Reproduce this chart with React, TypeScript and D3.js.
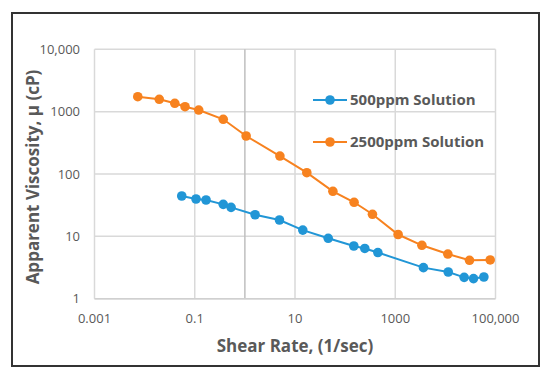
import React from "react";
import { scaleLog, line } from "d3";

// Shear rate (1/sec) and apparent viscosity (cP)
const rate500 = [0.055, 0.106, 0.168, 0.37, 0.53, 1.6, 4.9, 14.3, 46, 149, 247, 450, 3650, 11400, 23700, 36400, 58600];
const visc500 = [44.4, 39.7, 38.3, 32.6, 29.2, 22.2, 18.3, 12.6, 9.3, 7.0, 6.4, 5.5, 3.15, 2.68, 2.2, 2.1, 2.23];
const rate2500 = [0.0073, 0.0196, 0.04, 0.064, 0.12, 0.37, 1.06, 5.0, 17.2, 57, 151, 351, 1140, 3400, 11200, 30300, 78400];
const visc2500 = [1738, 1578, 1361, 1200, 1062, 754, 407, 194, 105, 52.8, 35.2, 22.6, 10.7, 7.18, 5.2, 4.13, 4.18];

const xTicks = [0.001, 0.1, 10, 1000, 100000];
const xTickLabels = ["0.001", "0.1", "10", "1000", "100,000"];
const yTicks = [1, 10, 100, 1000, 10000];
const yTickLabels = ["1", "10", "100", "1000", "10,000"];

const seriesNames = ["500ppm Solution", "2500ppm Solution"];
const colors = ["#2196d6", "#f7821f"];

const W = 550, H = 376;
const plot = { left: 94.5, right: 495.5, top: 49.3, bottom: 298.7 };
const font = "'Open Sans', 'DejaVu Sans', sans-serif";
const textColor = "#595959";

export default function App() {
  const x = scaleLog().domain([0.001, 100000]).range([plot.left, plot.right]);
  const y = scaleLog().domain([1, 10000]).range([plot.bottom, plot.top]);

  const series = [
    rate500.map((r, i) => [r, visc500[i]]),
    rate2500.map((r, i) => [r, visc2500[i]]),
  ];
  const path = line<number[]>().x(d => x(d[0])).y(d => y(d[1]));

  return (
    <svg width={W} height={H} style={{ position: "absolute", left: 0, top: 0 }} fontFamily={font}>
      <rect x={0} y={0} width={W} height={H} fill="#fff" />
      <rect x={12} y={13} width={527} height={353} fill="#fff" stroke="#333" strokeWidth={2} />

      {/* gridlines */}
      {yTicks.map(t => (
        <line key={"gy" + t} x1={plot.left} x2={plot.right} y1={y(t)} y2={y(t)} stroke="#d9d9d9" strokeWidth={1.5} />
      ))}
      {xTicks.map(t => (
        <line key={"gx" + t} x1={x(t)} x2={x(t)} y1={plot.top} y2={plot.bottom} stroke="#d9d9d9" strokeWidth={1.5} />
      ))}
      {/* vertical axis crossing at 1 */}
      <line x1={x(1)} x2={x(1)} y1={plot.top} y2={plot.bottom} stroke="#bfbfbf" strokeWidth={1.5} />
      <line x1={plot.left} x2={plot.right} y1={y(1)} y2={y(1)} stroke="#d0d0d0" strokeWidth={1.5} />

      {/* tick labels */}
      {yTicks.map((t, i) => (
        <text key={"ty" + t} x={80} y={y(t)} dy="0.35em" textAnchor="end" fontSize={13} fill={textColor}>
          {yTickLabels[i]}
        </text>
      ))}
      {xTicks.map((t, i) => (
        <text key={"tx" + t} x={x(t)} y={318} dy="0.35em" textAnchor="middle" fontSize={13} fill={textColor}>
          {xTickLabels[i]}
        </text>
      ))}

      {/* series */}
      {series.map((s, k) => (
        <g key={"s" + k}>
          <path d={path(s) || ""} fill="none" stroke={colors[k]} strokeWidth={2} />
          {s.map((d, i) => (
            <circle key={i} cx={x(d[0])} cy={y(d[1])} r={4.8} fill={colors[k]} />
          ))}
        </g>
      ))}

      {/* legend */}
      {seriesNames.map((name, k) => {
        const ly = 100 + k * 42;
        return (
          <g key={"l" + k}>
            <line x1={313} x2={347} y1={ly} y2={ly} stroke={colors[k]} strokeWidth={2} />
            <circle cx={330} cy={ly} r={4.8} fill={colors[k]} />
            <text x={350} y={ly} dy="0.35em" fontSize={15} fontWeight="bold" fill={textColor}>
              {name}
            </text>
          </g>
        );
      })}

      {/* axis titles */}
      <text x={(plot.left + plot.right) / 2} y={346} dy="0.35em" textAnchor="middle" fontSize={17} fontWeight="bold" fill={textColor}>
        Shear Rate, (1/sec)
      </text>
      <text transform={`translate(33,177) rotate(-90)`} dy="0.35em" textAnchor="middle" fontSize={17} fontWeight="bold" fill={textColor}>
        Apparent Viscosity, µ (cP)
      </text>
    </svg>
  );
}
